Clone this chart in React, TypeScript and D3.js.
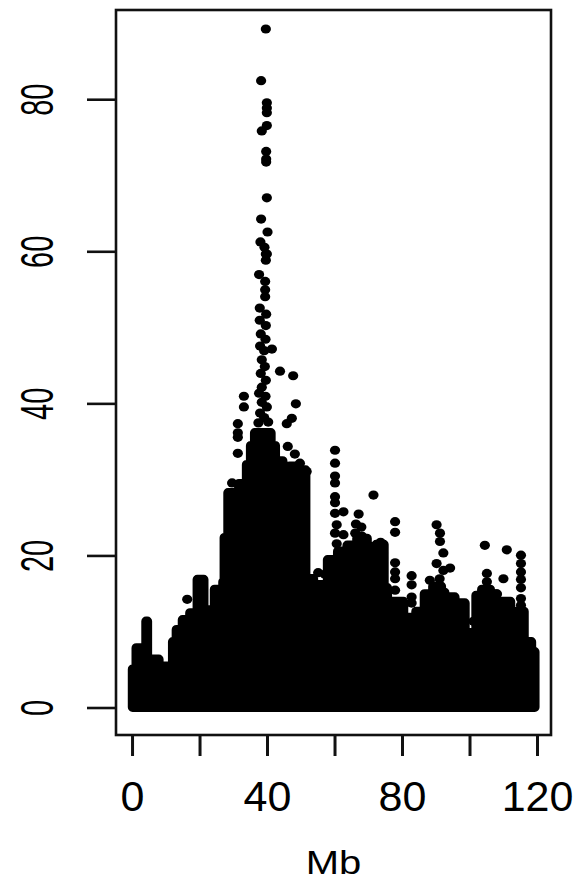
import React from "react";
import * as d3 from "d3";

// Axis ticks
const xTicks = [0, 20, 40, 60, 80, 100, 120];
const xTickLabels = ["0", "", "40", "", "80", "", "120"];
const yTicks = [0, 20, 40, 60, 80];
const yTickLabels = ["0", "20", "40", "60", "80"];

// Upper edge of the saturated band of overlapping markers (step starts, Mb / score)
const bandMb = [
  0, 1.1, 4.0, 4.4, 7.8, 11.9, 13.0, 14.8, 17.0, 19.2, 21.1, 24.3, 25.6, 26.8,
  27.2, 28.3, 31.5, 33.8, 35.0, 36.2, 41.0, 42.3, 44.5, 46.5, 49.0, 50.5, 51.3,
  53.6, 57.8, 60.8, 63.6, 66.5, 69.5, 72.2, 74.5, 75.5, 80.3, 84.0, 86.5, 89.0,
  91.5, 92.5, 95.5, 98.5, 101.8, 103.5, 106.0, 107.8, 112.0, 113.8, 116.0,
  118.2, 119.2,
];
const bandTop = [
  5.1, 7.9, 11.4, 6.4, 5.5, 8.7, 10.3, 11.6, 12.5, 16.9, 12.9, 15.6, 12.9, 16.6,
  22.4, 28.3, 29.5, 32.0, 34.5, 36.2, 34.5, 32.5, 31.0, 31.8, 30.8, 31.3, 17.0,
  16.2, 19.5, 20.6, 21.4, 22.3, 21.2, 21.5, 15.8, 14.0, 11.9, 12.7, 15.0, 16.0,
  15.2, 14.6, 13.8, 9.9, 14.8, 15.6, 15.0, 14.0, 11.9, 12.7, 8.7, 7.4, 7.4,
];
const bandFloor = 0.1;

// Individual markers standing above the band
const dotMb = [
  // chromosome-wide peak near 40 Mb
  39.5, 38.1, 39.8, 39.8, 39.8, 38.3, 39.8, 39.6, 39.6, 39.6, 39.8, 38.1, 40.0,
  37.9, 39.1, 39.8, 39.5, 39.5, 37.5, 39.3, 39.3, 39.3, 37.7, 39.6, 37.7, 39.5,
  38.0, 39.4, 37.8, 41.3, 39.0, 38.3, 39.2, 38.0, 39.5, 38.3, 37.5, 39.4, 38.3,
  39.8, 37.8, 39.0, 40.2, 37.3,
  // shoulder columns
  33.0, 33.0, 31.2, 31.2, 31.2, 31.2, 29.5, 16.2, 27.9,
  43.7, 47.6, 48.4, 47.2, 45.7, 46.0, 48.1, 49.6, 51.6,
  // 60 Mb column and neighbours
  60.0, 60.0, 60.0, 60.0, 60.0, 60.0, 60.0, 60.5, 60.0, 60.5, 62.5, 62.5,
  55.0, 57.0, 67.0, 66.2, 67.8, 66.0, 68.0, 71.4, 73.5,
  77.8, 77.8, 77.8, 77.8, 77.8, 77.8,
  82.7, 82.7, 82.7, 82.7,
  90.1, 91.1, 91.1, 92.1, 90.1, 92.1, 94.1, 88.1, 91.0,
  101.0, 104.4, 105.0, 105.0, 108.0, 109.9, 110.9,
  115.1, 115.1, 115.1, 115.1, 115.1, 115.1, 115.1,
];
const dotVal = [
  89.3, 82.5, 79.6, 78.9, 78.3, 75.9, 76.6, 73.2, 72.2, 71.8, 67.1, 64.3, 62.6,
  61.3, 60.6, 59.7, 59.7, 58.9, 57.0, 56.1, 55.0, 54.1, 52.6, 51.8, 51.0, 50.3,
  49.2, 48.5, 47.6, 47.2, 47.0, 45.8, 44.9, 44.0, 43.1, 42.2, 41.4, 41.0, 40.2,
  39.6, 38.8, 38.2, 37.6, 37.5,
  41.0, 39.6, 37.4, 36.2, 35.6, 33.5, 29.6, 14.3, 18.0,
  44.3, 43.7, 40.0, 38.1, 37.4, 34.4, 33.4, 32.2, 31.1,
  33.9, 32.2, 30.5, 29.6, 27.8, 27.0, 25.6, 24.1, 23.0, 21.6, 25.8, 22.8,
  17.8, 17.6, 25.5, 24.2, 23.8, 23.0, 22.6, 28.0, 21.8,
  24.5, 23.1, 19.1, 17.9, 17.0, 15.5,
  17.4, 16.2, 14.6, 13.8,
  24.1, 23.0, 21.9, 20.4, 19.0, 18.1, 18.4, 16.8, 17.0,
  11.4, 21.4, 17.7, 16.6, 15.0, 17.0, 20.8,
  20.1, 19.0, 17.9, 16.9, 15.8, 14.4, 13.5,
];

const W = 576;
const H = 886;
const box = { left: 116, right: 551, top: 10, bottom: 735 };
const font = "'Liberation Sans', Arial, Helvetica, sans-serif";

export default function App() {
  const x = d3.scaleLinear().domain([-4.9, 124.0]).range([box.left, box.right]);
  const y = d3.scaleLinear().domain([-3.55, 91.8]).range([box.bottom, box.top]);

  const band = bandMb.map((m, i) => [m, bandTop[i]] as [number, number]);
  const bandPath =
    d3
      .area<[number, number]>()
      .x((d) => x(d[0]))
      .y0(y(bandFloor))
      .y1((d) => y(d[1]))
      .curve(d3.curveStepAfter)(band) || "";

  const dots = dotMb.map((m, i) => ({ m, v: dotVal[i] }));

  return (
    <svg
      width={W}
      height={H}
      viewBox={`0 0 ${W} ${H}`}
      style={{ position: "absolute", left: 0, top: 0, background: "#fff" }}
    >
      <rect x={0} y={0} width={W} height={H} fill="#fff" />
      {/* dense band of overplotted markers */}
      <path
        d={bandPath}
        fill="#000"
        stroke="#000"
        strokeWidth={9.5}
        strokeLinejoin="round"
      />
      {dots.map((d, i) => (
        <ellipse key={i} cx={x(d.m)} cy={y(d.v)} rx={5.1} ry={4.6} fill="#000" />
      ))}

      {/* plot frame */}
      <rect
        x={box.left}
        y={box.top}
        width={box.right - box.left}
        height={box.bottom - box.top}
        fill="none"
        stroke="#111"
        strokeWidth={2.6}
      />

      {/* x axis */}
      {xTicks.map((t, i) => (
        <g key={t}>
          <line
            x1={x(t)}
            x2={x(t)}
            y1={box.bottom}
            y2={box.bottom + 21}
            stroke="#111"
            strokeWidth={3}
          />
          {xTickLabels[i] && (
            <text
              x={x(t)}
              y={811}
              textAnchor="middle"
              fontFamily={font}
              fontSize={43}
              fill="#000"
            >
              {xTickLabels[i]}
            </text>
          )}
        </g>
      ))}
      <text
        transform={`translate(${(box.left + box.right) / 2},874) scale(1,0.85)`}
        textAnchor="middle"
        fontFamily={font}
        fontSize={40}
        fill="#000"
      >
        Mb
      </text>

      {/* y axis */}
      {yTicks.map((t, i) => (
        <g key={t}>
          <line
            x1={box.left - 29}
            x2={box.left}
            y1={y(t)}
            y2={y(t)}
            stroke="#111"
            strokeWidth={2.6}
          />
          <text
            transform={`translate(53,${y(t)}) rotate(-90) scale(1,1.59)`}
            textAnchor="middle"
            fontFamily={font}
            fontSize={29}
            fill="#000"
          >
            {yTickLabels[i]}
          </text>
        </g>
      ))}
    </svg>
  );
}
